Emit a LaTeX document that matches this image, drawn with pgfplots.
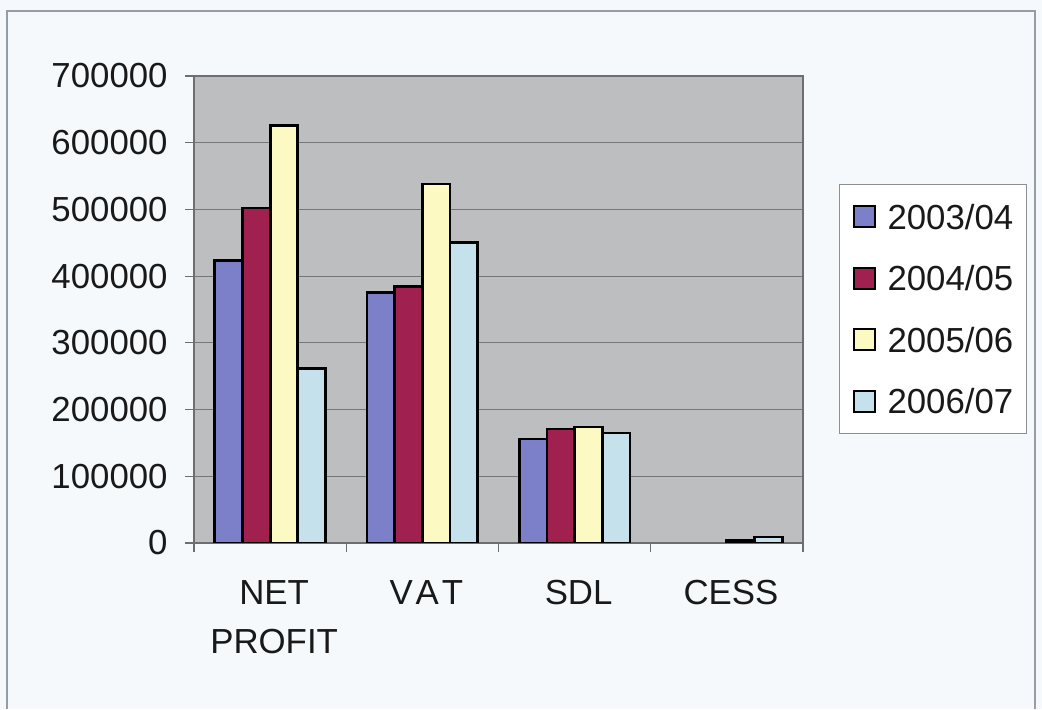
\documentclass[border=0pt]{standalone}
\usepackage{pgfplots}
\usepackage{pgfplotstable}
\pgfplotsset{compat=1.18}
\usepackage{fontspec}
\setmainfont{Liberation Sans}

\definecolor{pagebg}{RGB}{246,249,252}
\definecolor{framegray}{RGB}{150,158,165}
\definecolor{plotgray}{RGB}{189,190,192}
\definecolor{gridgray}{RGB}{118,118,120}
\definecolor{axisgray}{RGB}{110,110,112}
\definecolor{legendgray}{RGB}{140,144,148}
\definecolor{yrA}{RGB}{123,128,200}
\definecolor{yrB}{RGB}{160,32,79}
\definecolor{yrC}{RGB}{252,249,195}
\definecolor{yrD}{RGB}{197,226,236}

% Revenue items per financial year (categories at 0..3)
\pgfplotstableread{
x  y0304  y0405  y0506  y0607
0  424000 502000 626000 262000
1  376000 385000 538000 450000
2  156000 171000 174000 165000
3  nan    nan    4000   9000
}\datatable

\newcommand{\chartfont}{\fontsize{17.4}{24.5}\selectfont}

\begin{document}
\begin{tikzpicture}
  % page and chart frame
  \fill[pagebg] (0,0) rectangle (521pt,354.5pt);
  \draw[framegray, line width=0.6pt] (3.5pt,0) -- (3.5pt,349pt) -- (517.5pt,349pt) -- (517.5pt,0);
  \begin{axis}[
    at={(97pt,83pt)}, anchor=south west,
    scale only axis, width=304.5pt, height=233.5pt,
    ybar=0pt, bar width=0.1816,
    xmin=-0.5, xmax=3.5, ymin=0, ymax=700000,
    axis background/.style={fill=plotgray},
    axis line style={draw=axisgray, line width=0.6pt},
    tick pos=left,
    tick align=outside, major tick length=4.5pt,
    tick style={draw=axisgray, line width=0.6pt},
    ytick={0,100000,...,700000},
    scaled y ticks=false,
    /pgf/number format/fixed,
    /pgf/number format/1000 sep={},
    /pgf/number format/assume math mode=true,
    ymajorgrids,
    major grid style={draw=gridgray, line width=0.5pt},
    tick label style={font=\chartfont, text=black!90},
    yticklabel style={anchor=east, inner sep=0pt, xshift=-8.5pt},
    xtick={-0.5,0.5,1.5,2.5,3.5},
    xticklabels={},
    extra x ticks={0,1,2,3},
    extra x tick labels={{NET\\PROFIT},{V\kern1.5pt A\kern1.5pt T},SDL,CESS},
    extra x tick style={major tick length=0pt, grid=none,
      xticklabel style={align=center, anchor=north, inner sep=0pt, yshift=-18.5pt, xshift=2pt}},
    legend cell align=left,
    legend style={at={(1.0591,0.7687)}, anchor=north west,
      draw=legendgray, fill=white, line width=0.5pt,
      font=\chartfont, text=black!90, inner xsep=6.5pt, inner ysep=9.85pt,
      row sep=18.4pt, column sep=6pt,
      nodes={inner sep=0pt, text height=12.4pt, text depth=0pt}},
    every axis plot/.append style={draw=black, line width=1.4pt},
  ]
    \addplot[fill=yrA, legend image code/.code={\draw[fill=yrA,draw=black,line width=1pt] (0pt,-5.25pt) rectangle (10.5pt,5.25pt);}]
      table[x=x, y=y0304] {\datatable};
    \addplot[fill=yrB, legend image code/.code={\draw[fill=yrB,draw=black,line width=1pt] (0pt,-5.25pt) rectangle (10.5pt,5.25pt);}]
      table[x=x, y=y0405] {\datatable};
    \addplot[fill=yrC, legend image code/.code={\draw[fill=yrC,draw=black,line width=1pt] (0pt,-5.25pt) rectangle (10.5pt,5.25pt);}]
      table[x=x, y=y0506] {\datatable};
    \addplot[fill=yrD, legend image code/.code={\draw[fill=yrD,draw=black,line width=1pt] (0pt,-5.25pt) rectangle (10.5pt,5.25pt);}]
      table[x=x, y=y0607] {\datatable};
    \legend{2003/04,2004/05,2005/06,2006/07}
  \end{axis}
\end{tikzpicture}
\end{document}
